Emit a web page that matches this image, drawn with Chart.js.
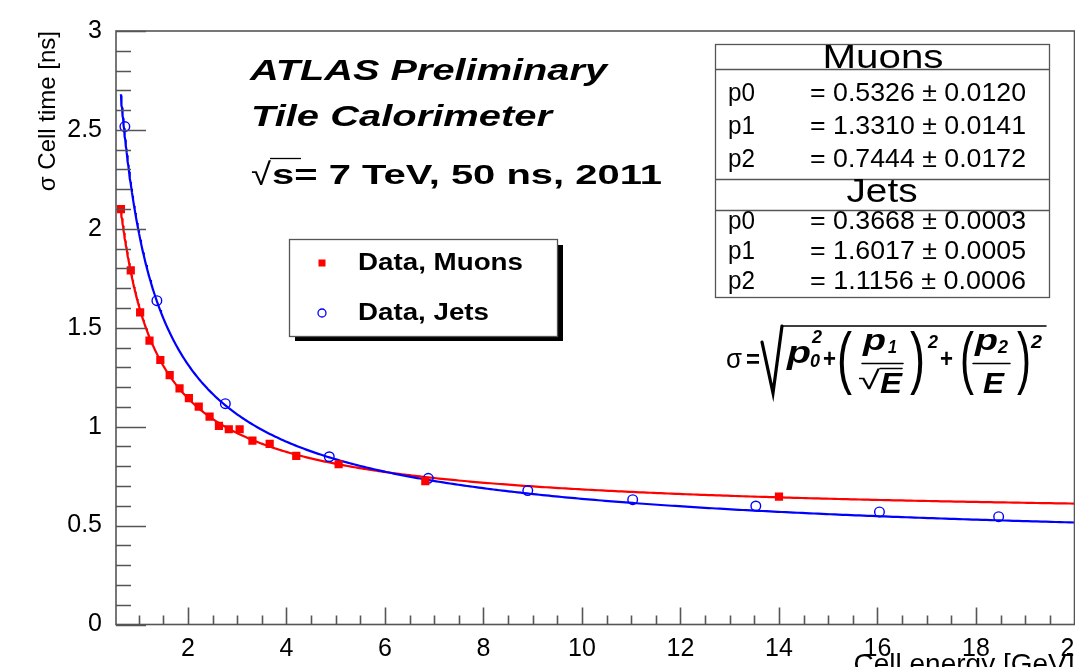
<!DOCTYPE html>
<html>
<head>
<meta charset="utf-8">
<script src="https://cdn.jsdelivr.net/npm/chart.js@4.4.1/dist/chart.umd.min.js"></script>
<style>
  html, body { margin: 0; padding: 0; background: #fff; }
  #wrap { width: 1075px; height: 667px; overflow: hidden; position: relative; }
  #c { display: block; }
</style>
</head>
<body>
<div id="wrap"><canvas id="c" width="1100" height="700"></canvas></div>
<script>
// cell energy [GeV] and time resolution [ns]
const muonE     = [0.64, 0.84, 1.03, 1.22, 1.44, 1.63, 1.83, 2.02, 2.22, 2.44, 2.63, 2.83, 3.05, 3.31, 3.66, 4.20, 5.06, 6.82, 14.0];
const muonSigma = [2.10, 1.79, 1.578, 1.435, 1.337, 1.261, 1.194, 1.144, 1.101, 1.051, 1.004, 0.987, 0.987, 0.929, 0.913, 0.852, 0.810, 0.725, 0.646];
const jetE      = [0.72, 1.37, 2.76, 4.87, 6.88, 8.90, 11.03, 13.53, 16.04, 18.46];
const jetSigma  = [2.517, 1.637, 1.116, 0.848, 0.739, 0.677, 0.631, 0.599, 0.569, 0.545];

// fit parameters p0, p1, p2 and their errors
const muonPar = [0.5326, 1.3310, 0.7444];
const muonErr = [0.0120, 0.0141, 0.0172];
const jetPar  = [0.3668, 1.6017, 1.1156];
const jetErr  = [0.0003, 0.0005, 0.0006];
const fitRange = [0.64, 20];

const xTicks = [2, 4, 6, 8, 10, 12, 14, 16, 18, 20];
const yTicks = [0, 0.5, 1, 1.5, 2, 2.5, 3];

const FONT = "'Liberation Sans', Arial, Helvetica, sans-serif";
Chart.defaults.font.family = FONT;
Chart.defaults.color = '#000';

// sigma(E) = sqrt(p0^2 + (p1/sqrt(E))^2 + (p2/E)^2)
function fitCurve(p, eMin, eMax) {
  const pts = [];
  for (let i = 0; i <= 400; i++) {
    const e = eMin + (eMax - eMin) * Math.pow(i / 400, 2);
    pts.push({ x: e, y: Math.sqrt(p[0] * p[0] + p[1] * p[1] / e + p[2] * p[2] / (e * e)) });
  }
  return pts;
}

const toPoints = (xs, ys) => xs.map((x, i) => ({ x: x, y: ys[i] }));

// text helper, w squeezes/stretches the string to a given width
function put(ctx, str, x, y, font, o = {}) {
  ctx.save();
  ctx.font = font;
  ctx.textAlign = o.align || 'left';
  ctx.textBaseline = o.baseline || 'middle';
  ctx.fillStyle = o.color || '#000';
  ctx.translate(x, y);
  let sx = o.sx || 1;
  if (o.w) sx = o.w / ctx.measureText(str).width;
  ctx.scale(sx, o.sy || 1);
  ctx.fillText(str, 0, 0);
  ctx.restore();
}

const rootFrame = {
  id: 'rootFrame',
  afterDatasetsDraw(chart) {
    const { ctx, chartArea: a, scales: { x, y } } = chart;
    ctx.save();
    ctx.strokeStyle = '#555';
    ctx.lineWidth = 1.6;
    ctx.strokeRect(a.left, a.top, a.right - a.left, a.bottom - a.top);
    ctx.beginPath();
    // y ticks: major every 0.5, minor every 0.1
    for (let v = y.min; v <= y.max + 1e-6; v += 0.1) {
      const py = Math.round(y.getPixelForValue(v)) + 0.5;
      const major = Math.abs(v * 2 - Math.round(v * 2)) < 1e-6;
      ctx.moveTo(a.left, py);
      ctx.lineTo(a.left + (major ? 30 : 15), py);
    }
    // x ticks: major every 2, minor every 0.5
    for (let v = 1; v <= x.max + 1e-6; v += 0.5) {
      const px = Math.round(x.getPixelForValue(v)) + 0.5;
      const major = Math.abs(v / 2 - Math.round(v / 2)) < 1e-6;
      ctx.moveTo(px, a.bottom);
      ctx.lineTo(px, a.bottom - (major ? 17 : 9));
    }
    ctx.stroke();
    ctx.restore();
  },
  afterDraw(chart) {
    const ctx = chart.ctx;
    const ds = chart.data.datasets;

    // labels
    put(ctx, 'ATLAS Preliminary', 250, 72, 'italic bold 30px ' + FONT, { w: 357 });
    put(ctx, 'Tile Calorimeter', 251, 118, 'italic bold 30px ' + FONT, { w: 301 });
    put(ctx, '\u221A', 251, 176, '31px ' + FONT, { w: 20 });
    ctx.save();
    ctx.strokeStyle = '#000';
    ctx.lineWidth = 1.3;
    ctx.beginPath();
    ctx.moveTo(270, 158.5);
    ctx.lineTo(301, 158.5);
    ctx.stroke();
    ctx.restore();
    put(ctx, 's= 7 TeV, 50 ns, 2011', 272, 177, 'bold 27px ' + FONT, { w: 390 });

    // legend
    ctx.save();
    ctx.fillStyle = '#000';
    ctx.fillRect(295, 337, 268, 4);
    ctx.fillRect(558, 245, 5, 96);
    ctx.fillStyle = '#fff';
    ctx.fillRect(289, 239, 269, 98);
    ctx.strokeStyle = '#555';
    ctx.lineWidth = 1.3;
    ctx.strokeRect(289.5, 239.5, 268, 97);
    ctx.fillStyle = '#ff0000';
    ctx.fillRect(318.5, 259.5, 7, 7);
    ctx.strokeStyle = '#0000ff';
    ctx.lineWidth = 1.3;
    ctx.beginPath();
    ctx.arc(322, 313, 4, 0, Math.PI * 2);
    ctx.stroke();
    ctx.restore();
    put(ctx, ds[0].label, 358, 264, 'bold 23px ' + FONT, { w: 165 });
    put(ctx, ds[1].label, 358, 314, 'bold 23px ' + FONT, { w: 131 });

    // fit results box
    ctx.save();
    ctx.fillStyle = '#fff';
    ctx.fillRect(715, 44, 335, 254);
    ctx.strokeStyle = '#555';
    ctx.lineWidth = 1.3;
    ctx.strokeRect(715.5, 44.5, 334, 253);
    ctx.beginPath();
    [69.5, 179.5, 210.5].forEach(ly => { ctx.moveTo(715.5, ly); ctx.lineTo(1049.5, ly); });
    ctx.stroke();
    ctx.restore();
    put(ctx, 'Muons', 883, 59, '33px ' + FONT, { w: 121, align: 'center' });
    put(ctx, 'Jets', 882, 193, '33px ' + FONT, { w: 71, align: 'center' });
    const rows = [[muonPar, muonErr, [94, 127, 160]], [jetPar, jetErr, [222, 252, 282]]];
    rows.forEach(([par, err, ys]) => {
      par.forEach((p, i) => {
        put(ctx, 'p' + i, 728, ys[i], '25px ' + FONT, { w: 27 });
        put(ctx, '= ' + p.toFixed(4) + ' \u00B1 ' + err[i].toFixed(4), 1026, ys[i], '25px ' + FONT, { w: 216, align: 'right' });
      });
    });

    // resolution formula
    const BI = 'italic bold ';
    put(ctx, '\u03C3', 726, 360, '28px ' + FONT, { w: 16 });
    put(ctx, '=', 746, 361, 'bold 26px ' + FONT, { w: 14 });
    ctx.save();
    ctx.strokeStyle = '#000';
    ctx.lineCap = 'round';
    ctx.lineWidth = 3.2;
    ctx.beginPath();
    ctx.moveTo(762, 342);
    ctx.lineTo(773, 393);
    ctx.lineTo(782, 326);
    ctx.stroke();
    ctx.lineWidth = 1.5;
    ctx.beginPath();
    ctx.moveTo(782, 326);
    ctx.lineTo(1046, 326);
    // fraction bars
    ctx.moveTo(862, 363.5); ctx.lineTo(903, 363.5);
    ctx.moveTo(973, 363.5); ctx.lineTo(1010, 363.5);
    // small root over E
    ctx.moveTo(880, 368.5); ctx.lineTo(902, 368.5);
    ctx.stroke();
    ctx.restore();
    const base = { baseline: 'alphabetic' };
    put(ctx, 'p', 787, 363, BI + '32px ' + FONT, { ...base, w: 24 });
    put(ctx, '2', 812, 343, BI + '18px ' + FONT, { ...base, w: 10 });
    put(ctx, '0', 810, 367, BI + '18px ' + FONT, { ...base, w: 10 });
    put(ctx, '+', 823, 360, 'bold 26px ' + FONT, { w: 13 });
    put(ctx, '(', 837, 362, '30px ' + FONT, { w: 15, sy: 2.3 });
    put(ctx, 'p', 863, 350, BI + '30px ' + FONT, { ...base, w: 23 });
    put(ctx, '1', 888, 353, BI + '18px ' + FONT, { ...base, w: 9 });
    put(ctx, '\u221A', 858, 382, '26px ' + FONT, { w: 22 });
    put(ctx, 'E', 880, 393, BI + '30px ' + FONT, { ...base, w: 22 });
    put(ctx, ')', 910, 362, '30px ' + FONT, { w: 15, sy: 2.3 });
    put(ctx, '2', 928, 348, BI + '18px ' + FONT, { ...base, w: 10 });
    put(ctx, '+', 940, 360, 'bold 26px ' + FONT, { w: 13 });
    put(ctx, '(', 960, 362, '30px ' + FONT, { w: 14, sy: 2.3 });
    put(ctx, 'p', 975, 350, BI + '30px ' + FONT, { ...base, w: 23 });
    put(ctx, '2', 998, 353, BI + '18px ' + FONT, { ...base, w: 10 });
    put(ctx, 'E', 983, 393, BI + '30px ' + FONT, { ...base, w: 21 });
    put(ctx, ')', 1017, 362, '30px ' + FONT, { w: 14, sy: 2.3 });
    put(ctx, '2', 1031, 348, BI + '18px ' + FONT, { ...base, w: 11 });
  }
};

new Chart(document.getElementById('c'), {
  type: 'scatter',
  data: {
    datasets: [
      {
        label: 'Data, Muons',
        data: toPoints(muonE, muonSigma),
        pointStyle: 'rect',
        pointRadius: 5.8,
        backgroundColor: '#ff0000',
        borderColor: '#ff0000',
        borderWidth: 0,
        order: 0
      },
      {
        label: 'Data, Jets',
        data: toPoints(jetE, jetSigma),
        pointStyle: 'circle',
        pointRadius: 4.8,
        backgroundColor: 'rgba(255,255,255,0)',
        borderColor: '#0000ff',
        borderWidth: 1.4,
        order: 1
      },
      {
        label: 'Muon fit',
        data: fitCurve(muonPar, fitRange[0], fitRange[1]),
        showLine: true,
        pointRadius: 0,
        borderColor: '#ff0000',
        borderWidth: 2.2,
        order: 3
      },
      {
        label: 'Jet fit',
        data: fitCurve(jetPar, fitRange[0], fitRange[1]),
        showLine: true,
        pointRadius: 0,
        borderColor: '#0000ff',
        borderWidth: 2.2,
        order: 2
      }
    ]
  },
  options: {
    responsive: false,
    animation: false,
    events: [],
    layout: { padding: { top: 31, right: 25.5, left: 0, bottom: 0 } },
    plugins: { legend: { display: false }, tooltip: { enabled: false } },
    scales: {
      x: {
        type: 'linear',
        min: 0.54,
        max: 20,
        grid: { display: false },
        border: { display: false },
        afterBuildTicks: s => { s.ticks = xTicks.map(v => ({ value: v })); },
        afterFit: s => { s.paddingLeft = 0; s.paddingRight = 0; s.height = 75.5; },
        ticks: { font: { size: 25 }, padding: 2, maxRotation: 0, color: '#000', callback: v => String(v) },
        title: { display: true, text: 'Cell energy [GeV]', align: 'end', font: { size: 28 }, padding: { top: 0, bottom: 18 } }
      },
      y: {
        min: 0,
        max: 3,
        grid: { display: false },
        border: { display: false },
        afterBuildTicks: s => { s.ticks = yTicks.map(v => ({ value: v })); },
        afterFit: s => { s.paddingTop = 0; s.paddingBottom = 0; s.width = 116; },
        ticks: { font: { size: 25 }, padding: 6, color: '#000', callback: v => String(v) },
        title: { display: true, text: '\u03C3 Cell time [ns]', align: 'end', font: { size: 24 }, padding: { top: 34, bottom: 0 } }
      }
    }
  },
  plugins: [rootFrame]
});
</script>
</body>
</html>
